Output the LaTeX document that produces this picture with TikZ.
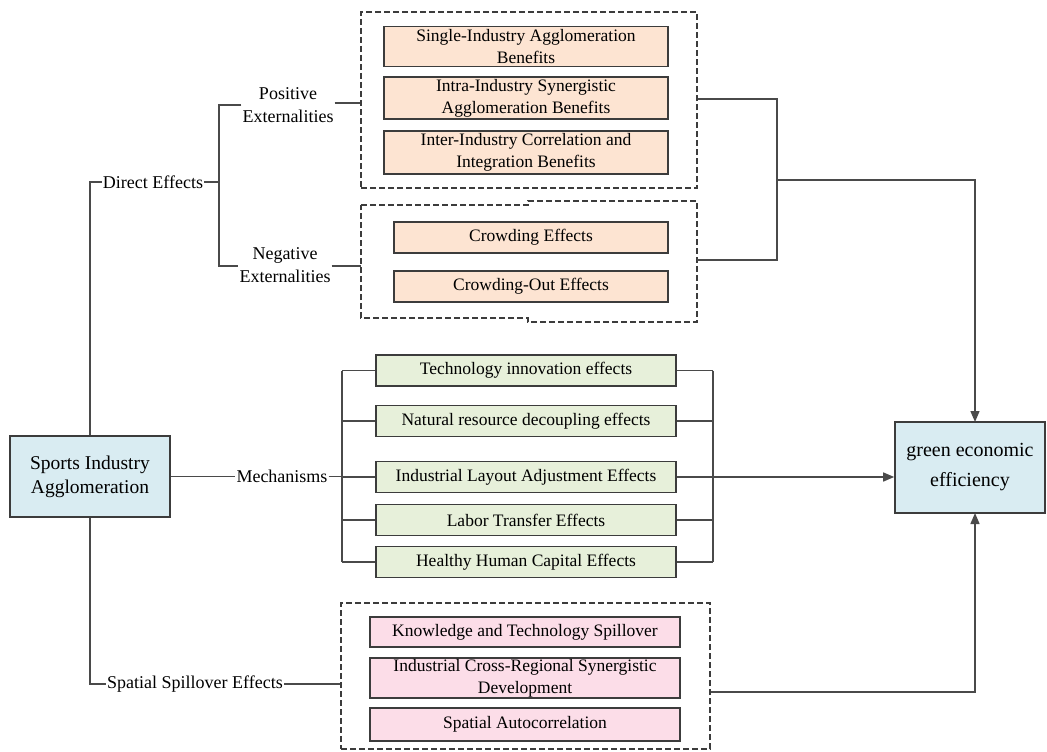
\documentclass[tikz,border=0pt]{standalone}
\usepackage{fontspec}
\setmainfont{Liberation Serif}
\newfontfamily\timesfont{Liberation Serif}
\usetikzlibrary{arrows.meta}

\definecolor{peach}{HTML}{FDE4D2}
\definecolor{sage}{HTML}{E7F0DA}
\definecolor{rose}{HTML}{FCDDE8}
\definecolor{sky}{HTML}{D9ECF2}
\definecolor{edge}{HTML}{3C3C3C}
\definecolor{wire}{HTML}{4A4A4A}

\tikzset{
    box/.style={draw=edge, line width=1.6pt, align=center, inner sep=0pt,
        font=\timesfont\fontsize{17.5}{22}\selectfont},
    peachbox/.style={box, fill=peach},
    sagebox/.style={box, fill=sage, minimum width=300pt, minimum height=31pt},
    rosebox/.style={box, fill=rose, minimum width=310pt},
    mainbox/.style={box, fill=sky, font=\timesfont\fontsize{19.5}{24}\selectfont},
    tag/.style={align=center, inner sep=1pt, font=\timesfont\fontsize{18}{23}\selectfont},
    group/.style={draw=edge, dash pattern=on 6pt off 3pt, line width=1.2pt},
    wires/.style={draw=wire, line width=1.4pt},
    tip/.style={wires, -{Triangle[length=11pt,width=9pt]}}
}

\begin{document}
\begin{tikzpicture}[x=1pt, y=-1pt]
    \useasboundingbox (0,0) rectangle (1047,752);
    % Main nodes
    \node[mainbox, minimum width=160pt, minimum height=81pt] (sports) at (90,476.5) {Sports Industry\\Agglomeration};
    \node[mainbox, minimum width=150pt, minimum height=91pt, font=\timesfont\fontsize{20}{30}\selectfont] (green) at (970,467.5) {green economic\\efficiency};
    % Branch labels
    \node[tag] (direct) at (153,182) {Direct Effects};
    \node[tag] (pos) at (288,105) {Positive\\Externalities};
    \node[tag] (neg) at (285,265) {Negative\\Externalities};
    \node[tag] (mech) at (282,476.5) {Mechanisms};
    \node[tag] (spatial) at (195,684) {Spatial Spillover Effects};
    % Positive externalities group
    \node[group, minimum width=336pt, minimum height=176pt] (posgrp) at (529,100) {};
    \node[peachbox, minimum width=284pt, minimum height=40pt] (single) at (526,46.5) {Single-Industry Agglomeration\\Benefits};
    \node[peachbox, minimum width=284pt, minimum height=42pt] (intra) at (526,98) {Intra-Industry Synergistic\\Agglomeration Benefits};
    \node[peachbox, minimum width=284pt, minimum height=43pt] (inter) at (526,152.5) {Inter-Industry Correlation and\\Integration Benefits};
    % Negative externalities group
    \draw[group] (361,205) -- (528,205) -- (528,201) -- (697,201) -- (697,322)
        -- (528,322) -- (528,318) -- (361,318) -- cycle;
    \coordinate (neggrpw) at (361,266);
    \coordinate (neggrpe) at (697,260);
    \node[peachbox, minimum width=274pt, minimum height=31pt] (crowd) at (531,237.5) {Crowding Effects};
    \node[peachbox, minimum width=274pt, minimum height=31pt] (crowdout) at (531,286.5) {Crowding-Out Effects};
    % Mechanism boxes
    \foreach \name/\y/\txt in {tech/370.5/Technology innovation effects,
                               natural/421/Natural resource decoupling effects,
                               layout/477/Industrial Layout Adjustment Effects,
                               labor/520/Labor Transfer Effects,
                               health/562/Healthy Human Capital Effects}
        \node[sagebox] (\name) at (526,\y) {\txt};
    % Spatial spillover group
    \node[group, minimum width=369pt, minimum height=146pt] (spgrp) at (525.5,676) {};
    \node[rosebox, minimum height=30pt] (know) at (525,632) {Knowledge and Technology Spillover};
    \node[rosebox, minimum height=40pt] (cross) at (525,678) {Industrial Cross-Regional Synergistic\\Development};
    \node[rosebox, minimum height=33pt] (auto) at (525,724.5) {Spatial Autocorrelation};
    % Direct effects branch
    \draw[wires] (sports.north) -- (sports.north |- direct.west) -- (direct.west);
    \draw[wires] (direct.east) -- (219,182);
    \draw[wires] (pos.west) -- (219,105) -- (219,266) -- (neg.west |- neggrpw);
    \draw[wires] (pos.east |- 0,103) -- (posgrp.west |- 0,103);
    \draw[wires] (neg.east |- neggrpw) -- (neggrpw);
    \draw[wires] (posgrp.east |- 0,99) -- (777,99) -- (777,260) -- (neggrpe);
    \draw[tip] (777,180) -- (975,180) -- (975,422);
    % Mechanisms branch
    \draw[wires] (sports.east) -- (mech.west);
    \draw[wires] (mech.east) -- (342,476.5);
    \draw[wires] (342,370.5) -- (342,562);
    \draw[wires] (713,370.5) -- (713,562);
    \foreach \name in {tech,natural,layout,labor,health} {
        \draw[wires] (\name.west) -- (342,0 |- \name.west);
        \draw[wires] (\name.east) -- (713,0 |- \name.east);
    }
    \draw[tip] (713,477) -- (green.west |- layout.east);
    % Spatial spillover branch
    \draw[wires] (sports.south) -- (sports.south |- spatial.west) -- (spatial.west);
    \draw[wires] (spatial.east) -- (spgrp.west |- spatial.east);
    \draw[tip] (spgrp.east |- 0,692) -- (975,692) -- (975,513);
\end{tikzpicture}
\end{document}
